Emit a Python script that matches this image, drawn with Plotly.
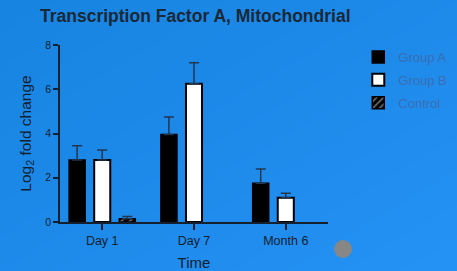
import plotly.graph_objects as go

categories = ["Day 1", "Day 7", "Month 6"]
group_a = [2.8, 3.95, 1.75]
group_a_err = [0.65, 0.8, 0.65]
group_b = [2.8, 6.25, 1.1]
group_b_err = [0.45, 0.95, 0.2]
control = [0.15, None, None]
control_err = [0.1, None, None]
y_ticks = [0, 2, 4, 6, 8]

W, H = 457, 271
L, R, T, B = 60, 129, 45, 49
bg = "#1d8aea"
dark = "#14202e"
err_col = "#22364f"

fig = go.Figure()
fig.add_trace(go.Bar(
    name="Group A", x=categories, y=group_a, legendgroup="a",
    marker=dict(color="black", line=dict(color="black", width=1.5)),
    error_y=dict(type="data", array=group_a_err, symmetric=False, arrayminus=[0]*3,
                 color=err_col, thickness=1.5, width=5),
))
fig.add_trace(go.Bar(
    name="Group B", x=categories, y=group_b, legendgroup="b",
    marker=dict(color="white", line=dict(color="black", width=2)),
    error_y=dict(type="data", array=group_b_err, symmetric=False, arrayminus=[0]*3,
                 color=err_col, thickness=1.5, width=5),
))
fig.add_trace(go.Bar(
    name="Control", x=categories, y=control, legendgroup="c",
    marker=dict(color="black", line=dict(color="black", width=1.5),
                pattern=dict(shape="/", fgcolor="white", bgcolor="black", size=6, solidity=0.3)),
    error_y=dict(type="data", array=control_err, symmetric=False, arrayminus=[0]*3,
                 color=err_col, thickness=1.5, width=5),
))

# subtle diagonal background gradient (decoration)
pw, ph = W - L - R, H - T - B
def to_paper(u, v):
    return ((u * W - L) / pw, (H - B - v * H) / ph)
c0 = (0x17, 0x84, 0xe0)
c1 = (0x24, 0x91, 0xf5)
N = 16
for k in range(N):
    t = k / N
    tm = (k + 0.5) / N
    col = "rgb(%d,%d,%d)" % tuple(round(a + (b - a) * tm) for a, b in zip(c0, c1))
    pts = [(2*t + 2, -2), (10, -2), (10, 10), (-2, 10), (-2, 2*t + 2)]
    pp = [to_paper(u, v) for u, v in pts]
    path = "M " + " L ".join("%.4f,%.4f" % p for p in pp) + " Z"
    fig.add_shape(type="path", path=path, xref="paper", yref="paper",
                  fillcolor=col, line=dict(width=0), layer="below")

fig.update_layout(
    width=W, height=H,
    margin=dict(l=L, r=R, t=T, b=B, autoexpand=False),
    paper_bgcolor=bg, plot_bgcolor="rgba(0,0,0,0)",
    barmode="group", bargap=0.18, bargroupgap=0.36,
    font=dict(family="Liberation Sans, Arial, sans-serif", size=11, color=dark),
    title=dict(text="<b>Transcription Factor A, Mitochondrial</b>", x=40/W, xanchor="left",
               y=1 - 16/H, yanchor="middle", font=dict(size=17.5, color="#1a2838")),
    legend=dict(x=1.113, y=1.017, xanchor="left", yanchor="top",
                font=dict(size=13, color="#3a6db2"), bgcolor="rgba(0,0,0,0)",
                tracegroupgap=3),
    showlegend=True,
)
fig.update_xaxes(
    showline=True, linecolor=dark, linewidth=1.5, ticks="outside", ticklen=6,
    tickcolor=dark, tickwidth=1.5, range=[-0.46, 2.46], showgrid=False, automargin=False,
    title=dict(text="Time", font=dict(size=15, color=dark), standoff=11),
    tickfont=dict(size=12.5, color=dark),
)
fig.update_yaxes(
    range=[0, 8], tickvals=y_ticks, showline=True, linecolor=dark, linewidth=1.5,
    ticks="outside", ticklen=5, tickcolor=dark, tickwidth=1.5, showgrid=False,
    zeroline=False, tickfont=dict(size=10.5, color=dark), automargin=False,
    title=dict(text="Log<sub>2</sub> fold change", font=dict(size=15.5, color=dark), standoff=10),
)
fig.add_shape(type="circle", xref="paper", yref="paper",
              x0=(334-L)/pw, x1=(352-L)/pw, y0=(222-258)/ph, y1=(222-240)/ph,
              fillcolor="#878787", line=dict(width=0))
fig.write_html("out.html", config={"displayModeBar": False},
               post_script="document.body.style.margin='0';document.body.style.overflow='hidden';")
